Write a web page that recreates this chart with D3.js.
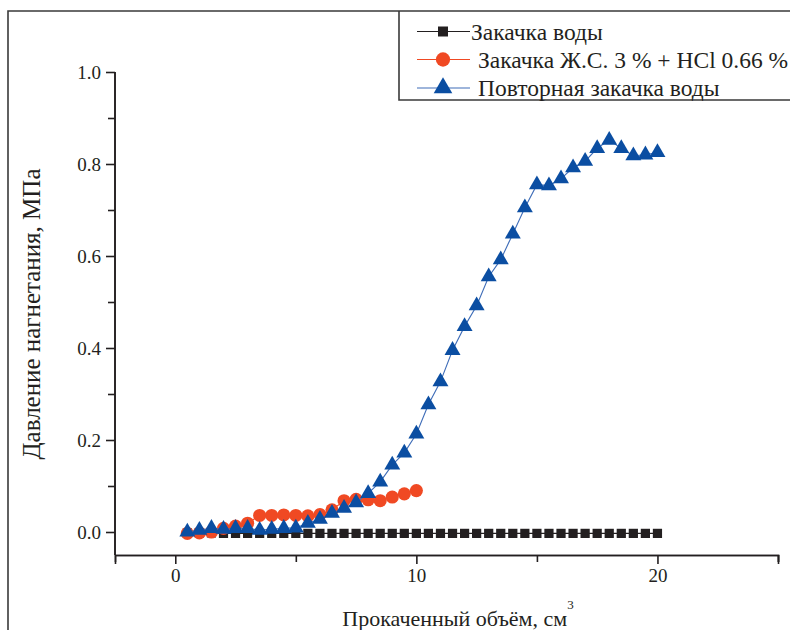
<!DOCTYPE html>
<html><head><meta charset="utf-8">
<script src="https://cdn.jsdelivr.net/npm/d3@7"></script>
<style>body{margin:0;background:#fff}svg{display:block}text{font-family:"Liberation Serif","Tinos","Times New Roman",serif !important;fill:#231f20}</style>
</head><body><svg id="c" width="790" height="630"></svg>
<script>
const seriesNames = ["Закачка воды", "Закачка Ж.С. 3 % + HCl 0.66 %", "Повторная закачка воды"];
const waterX = [0.5,1,1.5,2,2.5,3,3.5,4,4.5,5,5.5,6,6.5,7,7.5,8,8.5,9,9.5,10,10.5,11,11.5,12,12.5,13,13.5,14,14.5,15,15.5,16,16.5,17,17.5,18,18.5,19,19.5,20];
const waterY = [-0.002,-0.002,-0.002,-0.003,-0.003,-0.003,-0.003,-0.003,-0.003,-0.003,-0.003,-0.003,-0.003,-0.003,-0.003,-0.003,-0.003,-0.003,-0.003,-0.003,-0.003,-0.003,-0.003,-0.003,-0.003,-0.003,-0.003,-0.003,-0.003,-0.003,-0.003,-0.003,-0.003,-0.003,-0.003,-0.003,-0.003,-0.003,-0.003,-0.003];
const chemX = [0.5,1,1.5,2,2.5,3,3.5,4,4.5,5,5.5,6,6.5,7,7.5,8,8.5,9,9.5,10];
const chemY = [-0.003,-0.002,0.0,0.008,0.013,0.019,0.036,0.036,0.037,0.036,0.035,0.038,0.048,0.068,0.071,0.070,0.068,0.076,0.083,0.090];
const reX = [0.5,1,1.5,2,2.5,3,3.5,4,4.5,5,5.5,6,6.5,7,7.5,8,8.5,9,9.5,10,10.5,11,11.5,12,12.5,13,13.5,14,14.5,15,15.5,16,16.5,17,17.5,18,18.5,19,19.5,20];
const reY = [0.0,0.004,0.008,0.006,0.008,0.008,0.004,0.006,0.008,0.009,0.019,0.028,0.041,0.052,0.064,0.084,0.109,0.146,0.172,0.213,0.277,0.327,0.395,0.447,0.492,0.555,0.592,0.648,0.705,0.755,0.753,0.768,0.792,0.806,0.834,0.852,0.834,0.818,0.820,0.825];
const xMajor = [0,10,20];
const xMinor = [5,15,25];
const yMajor = [0,0.2,0.4,0.6,0.8,1.0];
const yMinor = [0.1,0.3,0.5,0.7,0.9];
const xTitle = "Прокаченный объём, см";
const yTitle = "Давление нагнетания, МПа";

const svg = d3.select("#c");
const x = d3.scaleLinear().domain([-2.5,25]).range([115,778]);
const y = d3.scaleLinear().domain([-0.05,1.0]).range([555,72]);
const ink = "#231f20";
const serif = "'Liberation Serif','Tinos',serif";

// outer frame
svg.append("path").attr("d","M8,630 L8,11 L790,11").attr("fill","none").attr("stroke","#3a3a3a").attr("stroke-width",1.6);

// axes
const gx = svg.append("g").attr("transform","translate(0,555)");
gx.call(d3.axisBottom(x).tickValues(xMajor).tickSize(9).tickPadding(5).tickFormat(d3.format("d")));
gx.append("g").call(d3.axisBottom(x).tickValues(xMinor).tickSize(7).tickFormat(""));
const gy = svg.append("g").attr("transform","translate(115,0)");
gy.call(d3.axisLeft(y).tickValues(yMajor).tickSize(9).tickPadding(5).tickFormat(d3.format(".1f")));
gy.append("g").call(d3.axisLeft(y).tickValues(yMinor).tickSize(7).tickFormat(""));
svg.selectAll("g").attr("font-family",serif);
svg.selectAll(".domain").attr("stroke",ink).attr("stroke-width",1.6);
svg.selectAll(".tick line").attr("stroke",ink).attr("stroke-width",1.6);
svg.selectAll(".tick text").attr("font-family",serif).style("font-size","19px").attr("fill",ink);
gy.selectAll(".domain").attr("d","M-0,72 L0,555");

// titles
const xt = svg.append("text").attr("x",458).attr("y",626).attr("text-anchor","middle").attr("font-family",serif).style("font-size","22px");
xt.append("tspan").text(xTitle);
xt.append("tspan").attr("dy",-17).style("font-size","13px").text("3");
svg.append("text").attr("transform","translate(40,314) rotate(-90)").attr("text-anchor","middle").attr("font-family",serif).style("font-size","25px").text(yTitle);

// series
const series = [
  {xs:waterX, ys:waterY, color:"#231f20", line:"#231f20", sym:d3.symbolSquare, size:85},
  {xs:chemX, ys:chemY, color:"#f04923", line:"#f04923", sym:d3.symbolCircle, size:135},
  {xs:reX, ys:reY, color:"#0b4ea2", line:"#3f6db8", sym:d3.symbolTriangle, size:110}
];
const line = d3.line().x(d=>x(d[0])).y(d=>y(d[1]));
series.forEach(s=>{
  const pts = s.xs.map((v,i)=>[v,s.ys[i]]);
  svg.append("path").datum(pts).attr("d",line).attr("fill","none").attr("stroke",s.line).attr("stroke-width",1.1);
  svg.append("g").selectAll("path").data(pts).join("path")
    .attr("transform",d=>`translate(${x(d[0])},${y(d[1])})`)
    .attr("d",d3.symbol(s.sym,s.size)()).attr("fill",s.color);
});

// legend
svg.append("path").attr("d","M399,11 L399,100 L790,100").attr("fill","none").attr("stroke","#3a3a3a").attr("stroke-width",1.6);
const lg = [31.5,59.5,88];
series.forEach((s,i)=>{
  const yy = lg[i];
  svg.append("line").attr("x1",417).attr("x2",470).attr("y1",yy).attr("y2",yy).attr("stroke",s.line).attr("stroke-width",1.2);
  svg.append("path").attr("transform",`translate(443,${yy})`).attr("d",d3.symbol(s.sym,i===2?150:(i===1?160:100))()).attr("fill",s.color);
  svg.append("text").attr("x",i===0?471:478).attr("y",yy+8).attr("font-family",serif).style("font-size","23.5px").text(seriesNames[i]);
});
</script></body></html>
